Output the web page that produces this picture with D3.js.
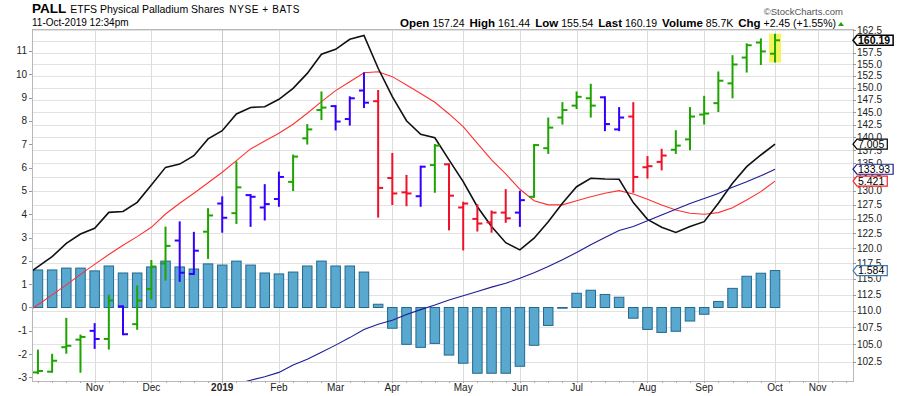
<!DOCTYPE html>
<html>
<head>
<meta charset="utf-8">
<script src="https://cdn.jsdelivr.net/npm/d3@7"></script>
<style>
  body { margin: 0; background: #fff; }
  svg { display: block; font-family: "Liberation Sans", Arial, sans-serif; }
</style>
</head>
<body>
<svg id="chart"></svg>
<script>
// --- Data: PALL weekly bars, Oct 2018 - Oct 2019 ---
const weeks = d3.timeMonday.range(new Date(2018, 9, 8), new Date(2019, 9, 8)); // 53 weeks

const open = [101.0, 101.1, 104.6, 105.7, 107.0, 105.8, 110.7, 108.0, 113.4, 117.5, 121.3, 115.8, 122.8, 127.7, 126.0, 129.2, 127.0, 128.5, 131.6, 139.8, 145.4, 146.2, 143.6, 149.4, 147.2, 132.3, 129.7, 129.0, 134.7, 134.85, 127.0, 125.0, 124.4, 126.1, 126.1, 128.9, 137.9, 143.9, 146.3, 147.8, 148.0, 141.55, 144.1, 134.3, 135.3, 137.6, 139.6, 144.5, 146.8, 150.9, 156.4, 159.7, 157.24];
const high = [104.1, 103.5, 108.8, 106.3, 108.0, 112.35, 110.7, 113.8, 117.9, 123.5, 124.4, 122.6, 126.7, 128.8, 135.2, 129.2, 131.0, 133.3, 136.5, 142.4, 149.0, 146.2, 148.0, 153.0, 149.3, 136.8, 132.7, 134.4, 138.5, 134.85, 127.85, 127.4, 126.3, 130.1, 129.8, 138.5, 143.7, 146.8, 149.0, 150.6, 148.0, 145.8, 146.8, 136.2, 137.6, 141.2, 145.8, 148.1, 153.2, 156.7, 159.3, 160.4, 161.44];
const low = [100.9, 101.1, 103.8, 101.1, 104.5, 104.4, 106.5, 107.3, 111.9, 114.9, 114.7, 115.8, 118.4, 122.8, 124.3, 123.8, 124.9, 127.3, 130.1, 138.8, 143.6, 141.55, 142.5, 146.0, 125.4, 127.6, 127.4, 127.3, 129.8, 123.2, 119.8, 123.0, 122.8, 124.5, 123.8, 128.9, 137.0, 142.7, 145.8, 144.1, 141.4, 141.4, 129.8, 132.4, 133.9, 137.0, 137.7, 142.7, 145.2, 148.0, 153.4, 155.0, 155.54];
const close = [101.2, 102.65, 104.8, 106.1, 105.8, 111.6, 106.5, 111.6, 117.0, 120.4, 116.0, 119.6, 125.6, 125.2, 130.6, 128.9, 127.6, 132.5, 136.3, 141.55, 145.9, 143.1, 147.8, 146.9, 130.5, 129.5, 129.5, 134.4, 138.4, 129.1, 127.7, 124.2, 126.1, 125.1, 128.3, 138.5, 141.9, 145.4, 148.1, 146.3, 142.6, 143.9, 132.5, 134.5, 136.5, 138.4, 144.1, 144.7, 151.45, 154.9, 159.1, 157.74, 160.19];

// Elder impulse colour per bar: g = green, b = blue, r = red
const impulse = "ggggbgbgggbbgbgbbbgggbbbrrrbgrrrrrbgggggbbrrrgggggggg".split("");

// 40-week moving average of price (below the panel before week 14)
const priceMA = [null, null, null, null, null, null, null, null, null, null, null, null, null, null,
  99.4, 99.9, 100.4, 101.0, 102.05, 102.85, 103.85, 104.9, 106.0, 107.2, 108.0, 108.6, 109.45, 110.2, 110.9, 111.7, 112.35, 113.0, 113.7, 114.3, 115.1, 116.0, 117.0, 118.1, 119.3, 120.6, 121.8, 123.0, 123.7, 124.7, 125.7, 126.7, 127.7, 128.6, 129.5, 130.6, 131.6, 132.7, 133.93];

// MACD on the left scale; first value is the week before the first bar
const macd = [1.3, 1.75, 2.18, 2.75, 3.15, 3.40, 4.08, 4.12, 4.51, 5.25, 6.01, 6.15, 6.51, 7.23, 7.58, 8.30, 8.58, 8.61, 8.93, 9.40, 10.04, 10.86, 11.07, 11.50, 11.67, 10.26, 9.04, 8.01, 7.43, 7.28, 6.33, 5.40, 4.32, 3.47, 2.78, 2.47, 2.97, 3.68, 4.47, 5.18, 5.54, 5.51, 5.50, 4.50, 3.78, 3.44, 3.22, 3.47, 3.68, 4.47, 5.33, 6.04, 6.54, 7.005];
const signal = [-0.3, 0.12, 0.54, 0.97, 1.42, 1.85, 2.27, 2.67, 3.04, 3.44, 4.01, 4.47, 4.90, 5.35, 5.80, 6.30, 6.80, 7.14, 7.47, 7.86, 8.33, 8.83, 9.30, 9.68, 10.07, 10.11, 9.90, 9.54, 9.18, 8.80, 8.30, 7.76, 7.04, 6.33, 5.73, 5.07, 4.58, 4.40, 4.40, 4.58, 4.75, 4.90, 5.01, 4.87, 4.64, 4.40, 4.18, 4.04, 4.00, 4.07, 4.28, 4.61, 4.97, 5.421];
const histogram = [1.61, 1.61, 1.69, 1.69, 1.57, 1.78, 1.48, 1.48, 1.74, 1.99, 1.74, 1.65, 1.87, 1.82, 1.99, 1.82, 1.48, 1.44, 1.52, 1.78, 1.99, 1.78, 1.78, 1.52, 0.14, -0.89, -1.58, -1.71, -1.54, -2.04, -2.39, -2.82, -2.82, -2.82, -2.52, -1.62, -0.77, -0.03, 0.61, 0.74, 0.56, 0.44, -0.46, -0.94, -1.07, -1.02, -0.58, -0.29, 0.26, 0.82, 1.34, 1.47, 1.584];

// Month labels on the bottom axis and the week index they start at
const monthLabels = ["Nov", "Dec", "2019", "Feb", "Mar", "Apr", "May", "Jun", "Jul", "Aug", "Sep", "Oct", "Nov"];
const monthWeek = [4, 8, 13, 17, 21, 25, 30, 34, 38, 43, 47, 52, 55];

const priceTicks = d3.range(102.5, 163, 2.5);
const leftTicks = d3.range(-3, 12);

const header = [
  ["Open", "157.24"], ["High", "161.44"], ["Low", "155.54"], ["Last", "160.19"],
  ["Volume", "85.7K"], ["Chg", "+2.45 (+1.55%)"]
];

// --- Setup ---
const width = 900, height = 396;
const P = { left: 32, right: 853, top: 29, bottom: 381 };
const colors = { g: "#1ea400", b: "#3300ff", r: "#ee1128" };

const svg = d3.select("#chart").attr("width", width).attr("height", height);

const x = d3.scaleLinear().domain([-0.42, 57.5]).range([P.left, P.right]);
const yPrice = d3.scaleLog().domain([99.8, 162.73]).range([P.bottom, P.top]);
const yInd = d3.scaleLinear().domain([-3.152, 11.943]).range([P.bottom, P.top]);

svg.append("defs").append("clipPath").attr("id", "clip")
  .append("rect").attr("x", P.left).attr("y", P.top)
  .attr("width", P.right - P.left).attr("height", P.bottom - P.top);

// --- Grid ---
const grid = svg.append("g");
grid.selectAll("line.h").data(priceTicks).join("line")
  .attr("x1", P.left).attr("x2", P.right)
  .attr("y1", (d) => Math.round(yPrice(d)) + 0.5).attr("y2", (d) => Math.round(yPrice(d)) + 0.5)
  .attr("stroke", "#e2e2e2");
grid.selectAll("line.v").data(monthWeek).join("line")
  .attr("x1", (d) => Math.round(x(d)) + 0.5).attr("x2", (d) => Math.round(x(d)) + 0.5)
  .attr("y1", P.top).attr("y2", P.bottom)
  .attr("stroke", (d, i) => (monthLabels[i] === "2019" ? "#c8c8c8" : "#dcdcdc"));

const body = svg.append("g").attr("clip-path", "url(#clip)");

// --- Histogram ---
body.selectAll("rect.hist").data(histogram).join("rect")
  .attr("x", (d, i) => x(i) - 4.75)
  .attr("width", 9.5)
  .attr("y", (d) => yInd(Math.max(0, d)))
  .attr("height", (d) => Math.max(0.5, Math.abs(yInd(d) - yInd(0))))
  .attr("fill", "#58a8d0")
  .attr("stroke", "#24698e")
  .attr("stroke-width", 1);

// --- Lines ---
const indLine = d3.line().x((d, i) => x(i - 1)).y((d) => yInd(d));
body.append("path").attr("d", indLine(signal))
  .attr("fill", "none").attr("stroke", "#ff3030").attr("stroke-width", 1.1);
body.append("path").attr("d", indLine(macd))
  .attr("fill", "none").attr("stroke", "#111").attr("stroke-width", 1.6);

const maLine = d3.line().defined((d) => d != null).x((d, i) => x(i)).y((d) => yPrice(d));
body.append("path").attr("d", maLine(priceMA))
  .attr("fill", "none").attr("stroke", "#1c1c96").attr("stroke-width", 1.1);

// --- Highlight on current bar ---
const last = close.length - 1;
body.append("rect")
  .attr("x", x(last) - 6).attr("width", 12)
  .attr("y", yPrice(high[last]) - 1)
  .attr("height", yPrice(low[last]) - yPrice(high[last]) + 2)
  .attr("fill", "#f4f45a");

// --- OHLC bars ---
const bars = body.selectAll("g.bar").data(close.map((c, i) => i)).join("g")
  .attr("stroke", (i) => colors[impulse[i]]).attr("stroke-width", 2);
bars.append("line")
  .attr("x1", (i) => x(i)).attr("x2", (i) => x(i))
  .attr("y1", (i) => yPrice(high[i]) - 1).attr("y2", (i) => yPrice(low[i]) + 1);
bars.append("line")
  .attr("x1", (i) => x(i) - 5).attr("x2", (i) => x(i))
  .attr("y1", (i) => yPrice(open[i])).attr("y2", (i) => yPrice(open[i]));
bars.append("line")
  .attr("x1", (i) => x(i)).attr("x2", (i) => x(i) + 5)
  .attr("y1", (i) => yPrice(close[i])).attr("y2", (i) => yPrice(close[i]));

// --- Frame ---
svg.append("rect")
  .attr("x", P.left + 0.5).attr("y", P.top + 0.5)
  .attr("width", P.right - P.left).attr("height", P.bottom - P.top)
  .attr("fill", "none").attr("stroke", "#b8b8b8");

// --- Left axis ---
const la = svg.append("g").attr("font-size", 10).attr("fill", "#222");
la.selectAll("line").data(leftTicks).join("line")
  .attr("x1", P.left - 3).attr("x2", P.left)
  .attr("y1", (d) => Math.round(yInd(d)) + 0.5).attr("y2", (d) => Math.round(yInd(d)) + 0.5)
  .attr("stroke", "#999");
la.selectAll("text").data(leftTicks).join("text")
  .attr("x", P.left - 5).attr("y", (d) => yInd(d)).attr("dy", "0.35em")
  .attr("text-anchor", "end")
  .text((d) => d);

// --- Right axis ---
const ra = svg.append("g").attr("font-size", 10).attr("fill", "#222");
ra.selectAll("line").data(priceTicks).join("line")
  .attr("x1", P.right).attr("x2", P.right + 3)
  .attr("y1", (d) => Math.round(yPrice(d)) + 0.5).attr("y2", (d) => Math.round(yPrice(d)) + 0.5)
  .attr("stroke", "#999");
ra.selectAll("text").data(priceTicks).join("text")
  .attr("x", P.right + 4).attr("y", (d) => yPrice(d)).attr("dy", "0.35em")
  .text((d) => d.toFixed(1));

// --- Bottom axis ---
const ba = svg.append("g");
ba.selectAll("line").data(d3.range(0, 58)).join("line")
  .attr("x1", (d) => Math.round(x(d)) + 0.5).attr("x2", (d) => Math.round(x(d)) + 0.5)
  .attr("y1", P.bottom).attr("y2", P.bottom + 2)
  .attr("stroke", "#aaa");
ba.selectAll("text").data(monthLabels).join("text")
  .attr("x", (d, i) => x(monthWeek[i])).attr("y", 391)
  .attr("text-anchor", "middle")
  .attr("font-size", 10)
  .attr("font-weight", (d) => (d === "2019" ? "bold" : "normal"))
  .attr("fill", "#222")
  .text((d) => d);

// --- Value tags on right axis ---
function tag(y, label, stroke, bold) {
  const g = svg.append("g");
  const path = g.append("path");
  const t = g.append("text")
    .attr("x", P.right + 5).attr("y", y).attr("dy", "0.35em")
    .attr("font-size", 10.5).attr("font-weight", bold ? "bold" : "normal")
    .attr("fill", "#000").text(label);
  const w = t.node().getComputedTextLength() + 5;
  path.attr("d", `M${P.right},${y} L${P.right + 4},${y - 5} H${P.right + 3 + w} V${y + 5} H${P.right + 4} Z`)
    .attr("fill", "#fff").attr("stroke", stroke).attr("stroke-width", bold ? 1.5 : 1.2);
}
tag(yPrice(close[last]), close[last].toFixed(2), "#000", true);
tag(yInd(macd[macd.length - 1]), macd[macd.length - 1].toFixed(3), "#000", false);
tag(yPrice(priceMA[last]), priceMA[last].toFixed(2), "#1c1c96", false);
tag(yInd(signal[signal.length - 1]), signal[signal.length - 1].toFixed(3), "#ff2020", false);
tag(yInd(histogram[last]), histogram[last].toFixed(3), "#3a78b0", false);

// --- Header ---
const title = svg.append("text").attr("x", 32).attr("y", 13).attr("fill", "#000");
title.append("tspan").attr("font-size", 13.5).attr("font-weight", "bold").text("PALL");
title.append("tspan").attr("dx", 4).attr("font-size", 10.5).text("ETFS Physical Palladium Shares");
title.append("tspan").attr("dx", 5).attr("font-size", 10).attr("letter-spacing", 0.6).text("NYSE + BATS");

svg.append("text").attr("x", 32).attr("y", 26).attr("font-size", 10).attr("fill", "#000")
  .text("11-Oct-2019 12:34pm");

svg.append("text").attr("x", 843).attr("y", 15).attr("text-anchor", "end")
  .attr("font-size", 9.5).attr("fill", "#555").text("©StockCharts.com");

const info = svg.append("text").attr("x", 836).attr("y", 26.5).attr("text-anchor", "end").attr("fill", "#000");
header.forEach(([k, v], i) => {
  info.append("tspan").attr("dx", i ? 5 : 0).attr("font-size", 11.5).attr("font-weight", "bold").text(k);
  info.append("tspan").attr("dx", 3).attr("font-size", 10.5).text(v);
});
svg.append("path").attr("d", "M838,26 L841,22 L844,26 Z").attr("fill", "#1ea400");
</script>
</body>
</html>
